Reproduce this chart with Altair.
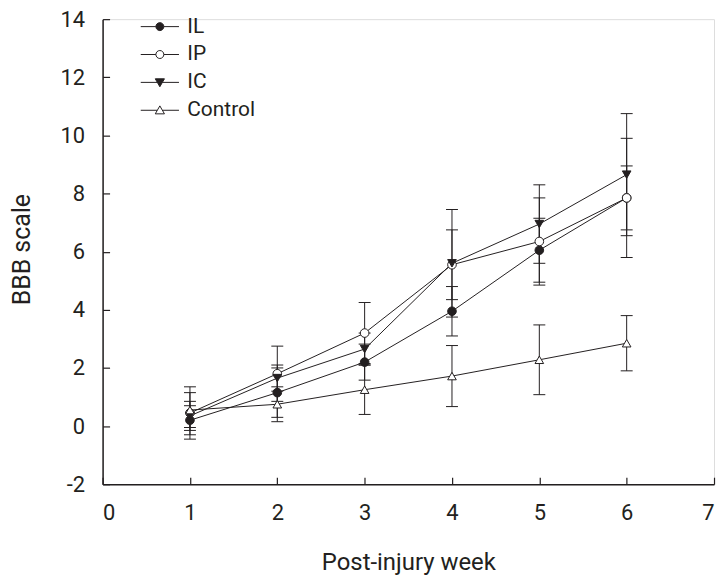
import altair as alt
import pandas as pd

weeks = [1, 2, 3, 4, 5, 6]
series_names = ["IL", "IP", "IC", "Control"]

il_mean = [0.2, 1.15, 2.2, 3.95, 6.05, 7.85]
il_err = [0.5, 0.85, 0.62, 0.85, 1.1, 1.1]
ip_mean = [0.45, 1.8, 3.2, 5.55, 6.35, 7.85]
ip_err = [0.9, 0.95, 1.05, 1.2, 1.5, 2.05]
ic_mean = [0.35, 1.65, 2.65, 5.6, 6.95, 8.65]
ic_err = [0.5, 0.45, 0.55, 1.85, 1.35, 2.1]
ctrl_mean = [0.55, 0.75, 1.25, 1.72, 2.28, 2.85]
ctrl_err = [0.6, 0.6, 0.85, 1.05, 1.2, 0.95]

x_ticks = [0, 1, 2, 3, 4, 5, 6, 7]
y_ticks = [-2, 0, 2, 4, 6, 8, 10, 12, 14]

rows = []
for name, means, errs in [("IL", il_mean, il_err), ("IP", ip_mean, ip_err),
                          ("IC", ic_mean, ic_err), ("Control", ctrl_mean, ctrl_err)]:
    for w, m, e in zip(weeks, means, errs):
        rows.append({"series": name, "week": w, "value": m, "lo": m - e, "hi": m + e})
df = pd.DataFrame(rows)

INK = "#231f20"
FONT = "Roboto, Liberation Sans, sans-serif"
W, H = 614, 467

xscale = alt.Scale(domain=[0, 7], nice=False, zero=False)
yscale = alt.Scale(domain=[-2, 14], nice=False, zero=False)

x_main = alt.Axis(values=x_ticks, ticks=False, domain=True, domainColor=INK, domainWidth=1.5,
                  labelFontSize=22, labelPadding=18, labelColor=INK, labelFont=FONT, grid=False,
                  labelExpr="'' + datum.value",
                  title="Post-injury week", titleFontSize=24, titleFont=FONT, titleColor=INK,
                  titleFontWeight="normal", titleX=307, titleY=79, titleBaseline="middle",
                  titleAlign="center")
y_main = alt.Axis(values=y_ticks, ticks=False, domain=True, domainColor=INK, domainWidth=1.5,
                  labelFontSize=22, labelPadding=18, labelColor=INK, labelFont=FONT, grid=False,
                  labelExpr="'' + datum.value",
                  title="BBB scale", titleFontSize=25, titleFont=FONT, titleColor=INK,
                  titleFontWeight="normal", titleX=-81, titleY=231, titleAngle=270,
                  titleBaseline="middle", titleAlign="center")
x_ticks_axis = alt.Axis(values=x_ticks, orient="top", offset=-H, labels=False, domain=False,
                        ticks=True, tickSize=7, tickColor=INK, tickWidth=1.2, grid=False, title=None)
y_ticks_axis = alt.Axis(values=y_ticks, orient="right", offset=-W, labels=False, domain=False,
                        ticks=True, tickSize=7, tickColor=INK, tickWidth=1.2, grid=False, title=None)

base = alt.Chart(df)

lines = base.mark_line(color=INK, strokeWidth=1).encode(
    x=alt.X("week:Q", scale=xscale, axis=x_main),
    y=alt.Y("value:Q", scale=yscale, axis=y_main),
    detail="series:N",
)

rules = base.mark_rule(color=INK, strokeWidth=1).encode(
    x=alt.X("week:Q", scale=xscale, axis=x_ticks_axis),
    y=alt.Y("lo:Q", scale=yscale, axis=y_ticks_axis),
    y2="hi:Q",
)

caps_lo = base.mark_tick(orient="horizontal", color=INK, size=12, thickness=1, opacity=1).encode(
    x=alt.X("week:Q", scale=xscale, axis=None),
    y=alt.Y("lo:Q", scale=yscale, axis=None),
)
caps_hi = base.mark_tick(orient="horizontal", color=INK, size=12, thickness=1, opacity=1).encode(
    x=alt.X("week:Q", scale=xscale, axis=None),
    y=alt.Y("hi:Q", scale=yscale, axis=None),
)

point_shapes = ["circle", "circle", "triangle-down", "triangle-up"]
point_fills = [INK, "white", INK, "white"]

points = base.mark_point(filled=True, stroke=INK, strokeWidth=1, opacity=1, size=75).encode(
    x=alt.X("week:Q", scale=xscale, axis=None),
    y=alt.Y("value:Q", scale=yscale, axis=None),
    shape=alt.Shape("series:N", scale=alt.Scale(domain=series_names, range=point_shapes), legend=None),
    fill=alt.Fill("series:N", scale=alt.Scale(domain=series_names, range=point_fills), legend=None),
    stroke=alt.value(INK),
)

legend_shapes = [
    "M-4.8,0H-1M1,0H4.8M1,0A1,1,0,1,1,-1,0A1,1,0,1,1,1,0Z",
    "M-4.8,0H-1M1,0H4.8M1,0A1,1,0,1,1,-1,0A1,1,0,1,1,1,0Z",
    "M-4.8,0H-0.6M0.6,0H4.8M-1.15,-0.9L1.15,-0.9L0,1.1Z",
    "M-4.8,0H-0.7M0.7,0H4.8M0,-1.1L1.15,0.9L-1.15,0.9Z",
]

legend_props = dict(title=None, orient="none", legendX=47, legendY=-3,
                    symbolSize=64, symbolStrokeWidth=1,
                    labelFontSize=21, labelFont=FONT, labelColor=INK,
                    labelOffset=17, rowPadding=6)

legend_layer = base.mark_point(filled=True, strokeWidth=1, opacity=1).encode(
    x=alt.X("week:Q", scale=xscale, axis=None),
    y=alt.Y("value:Q", scale=yscale, axis=None),
    shape=alt.Shape("series:N", scale=alt.Scale(domain=series_names, range=legend_shapes),
                    legend=alt.Legend(**legend_props)),
    fill=alt.Fill("series:N", scale=alt.Scale(domain=series_names, range=point_fills),
                  legend=alt.Legend(**legend_props)),
    stroke=alt.Stroke("series:N", scale=alt.Scale(domain=series_names, range=[INK] * 4),
                      legend=alt.Legend(**legend_props)),
).transform_filter("false")

chart = alt.layer(lines, rules, caps_lo, caps_hi, points, legend_layer).resolve_axis(
    x="independent", y="independent"
).resolve_scale(
    shape="independent", fill="independent", stroke="independent"
).properties(
    width=W, height=H,
    autosize=alt.AutoSizeParams(type="none"),
    padding={"left": 95, "top": 10, "right": 4, "bottom": 90},
).configure_view(stroke=None).configure(background="white")

chart.save("out.html", embed_options={"renderer": "svg", "actions": False})
